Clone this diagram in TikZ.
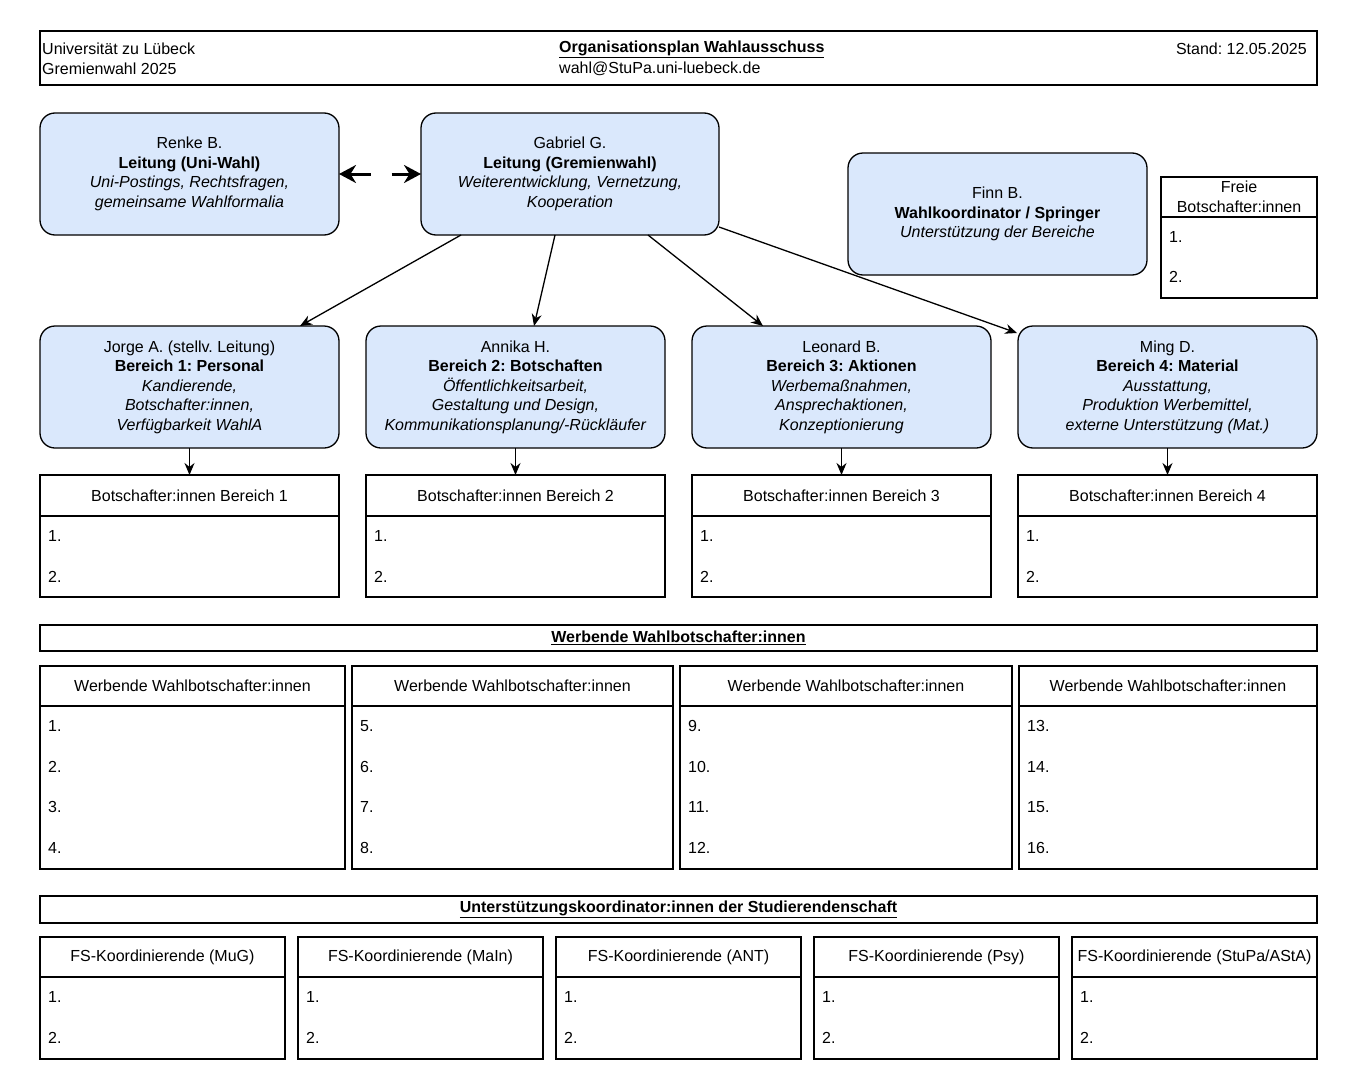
\documentclass[tikz,border=0pt]{standalone}
\usepackage{fontspec}
\setmainfont{Liberation Sans}
\usepackage{xcolor}
\usetikzlibrary{calc,positioning,arrows.meta}
\definecolor{amtblau}{HTML}{DAE8FC}
\frenchspacing
\tikzset{
	amt/.style={draw, fill=amtblau, rounded corners=15pt, line width=1.3pt, minimum width=299pt, minimum height=122pt, align=center, inner sep=0pt, outer sep=0pt},
	kopf/.style={draw, line width=1.3pt, minimum height=41pt, align=center, inner sep=0pt, outer sep=0pt},
	liste/.style={draw, line width=1.3pt, inner sep=0pt, outer sep=0pt},
	eintrag/.style={anchor=west, inner sep=0pt},
	pfeil/.style={-{Stealth[length=12pt,width=10pt]}, line width=1.3pt}
}
\begin{document}
\begin{tikzpicture}[x=1pt, y=-1pt, font=\fontsize{16}{19.5}\selectfont\frenchspacing]
	\fill[white] (0,0) rectangle (1358,1092);
	\useasboundingbox (0,0) rectangle (1358,1092);

	\node[liste, minimum width=1277pt, minimum height=54pt] (titel) at (678.5,58) {};
	\node[eintrag] (uni) at ($(titel.north west)+(2,18)$) {Universität zu Lübeck};
	\node[eintrag] (wahl) at ($(titel.north west)+(2,38)$) {Gremienwahl 2025};
	\node[eintrag] (plan) at ($(titel.north west)+(519,18)$) {\underline{\textbf{Organisationsplan Wahlausschuss}}};
	\node[eintrag] (mail) at ($(titel.north west)+(519,38)$) {wahl@StuPa.uni-luebeck.de};
	\node[inner sep=0pt, anchor=east] (stand) at ($(titel.north east)+(-10,18)$) {Stand: 12.05.2025};

	\node[amt] (renke) at (189.5,174) {Renke B.\\\textbf{Leitung (Uni-Wahl)}\\\textit{Uni-Postings, Rechtsfragen,}\\\textit{gemeinsame Wahlformalia}};
	\node[amt, minimum width=298pt, right=82pt of renke] (gabriel) {Gabriel G.\\\textbf{Leitung (Gremienwahl)}\\\textit{Weiterentwicklung, Vernetzung,}\\\textit{Kooperation}};
	\node[amt] (finn) at (997.5,214) {Finn B.\\\textbf{Wahlkoordinator / Springer}\\\textit{Unterstützung der Bereiche}};

	\node[kopf, minimum width=156pt, minimum height=40pt] (freik) at (1239,197) {Freie\\Botschafter:innen};
	\node[liste, minimum width=156pt, minimum height=81pt, below=0pt of freik] (freil) {};
	\node[eintrag] (freil-1) at ($(freil.north west)+(8,20)$) {1.};
	\node[eintrag] (freil-2) at ($(freil.north west)+(8,60)$) {2.};

	\draw[{Stealth[length=17pt,width=18pt]}-{Stealth[length=17pt,width=18pt]}, line width=3pt, dash pattern=on 21pt off 21pt] (renke) -- (gabriel);

	\node[amt] (jorge) at (189.5,387) {Jorge A. (stellv. Leitung)\\\textbf{Bereich 1: Personal}\\\textit{Kandierende,}\\\textit{Botschafter:innen,}\\\textit{Verfügbarkeit WahlA}};
	\node[amt, right=27pt of jorge] (annika) {Annika H.\\\textbf{Bereich 2: Botschaften}\\\textit{Öffentlichkeitsarbeit,}\\\textit{Gestaltung und Design,}\\\textit{Kommunikationsplanung/-Rückläufer}};
	\node[amt, right=27pt of annika] (leonard) {Leonard B.\\\textbf{Bereich 3: Aktionen}\\\textit{Werbemaßnahmen,}\\\textit{Ansprechaktionen,}\\\textit{Konzeptionierung}};
	\node[amt, right=27pt of leonard] (ming) {Ming D.\\\textbf{Bereich 4: Material}\\\textit{Ausstattung,}\\\textit{Produktion Werbemittel,}\\\textit{externe Unterstützung (Mat.)}};

	\draw[pfeil] ($(gabriel.south west)+(40,0)$) -- ($(jorge.north east)+(-39,0)$);
	\draw[pfeil] ($(gabriel.south west)+(134,0)$) -- ($(annika.north west)+(168,0)$);
	\draw[pfeil] ($(gabriel.south east)+(-71,0)$) -- ($(leonard.north west)+(71,0)$);
	\draw[pfeil] ($(gabriel.south east)+(0,-8)$) -- ($(ming.north west)+(-1,7)$);

	\foreach \n/\amt in {1/jorge, 2/annika, 3/leonard, 4/ming}{
		\node[kopf, minimum width=299pt, below=27pt of \amt] (botk\n) {Botschafter:innen Bereich \n};
		\node[liste, minimum width=299pt, minimum height=81pt, below=0pt of botk\n] (botl\n) {};
		\node[eintrag] (botl\n-1) at ($(botl\n.north west)+(8,20)$) {1.};
		\node[eintrag] (botl\n-2) at ($(botl\n.north west)+(8,61)$) {2.};
		\draw[pfeil] (\amt) -- (botk\n);
	}

	\node[liste, minimum width=1277pt, minimum height=26pt] (werb) at (678.5,638) {\underline{\textbf{Werbende Wahlbotschafter:innen}}};
	\foreach \n/\x/\w in {1/192.5/305, 2/512.5/321, 3/846/332, 4/1168/298}{
		\node[kopf, minimum width=\w*1pt, minimum height=40pt] (werbk\n) at (\x,686) {Werbende Wahlbotschafter:innen};
		\node[liste, minimum width=\w*1pt, minimum height=163pt, below=0pt of werbk\n] (werbl\n) {};
		\foreach \k in {1,...,4}{
			\pgfmathtruncatemacro{\nr}{4*(\n-1)+\k}
			\node[eintrag] (werbl\n-\k) at ($(werbl\n.north west)+(8,{20+40.7*(\k-1)})$) {\nr.};
		}
	}

	\node[liste, minimum width=1277pt, minimum height=27pt] (unterst) at (678.5,909.5) {\underline{\textbf{Unterstützungskoordinator:innen der Studierendenschaft}}};
	\foreach \n/\fs in {1/MuG, 2/MaIn, 3/ANT, 4/Psy, 5/{StuPa/AStA}}{
		\node[kopf, minimum width=245pt, minimum height=40pt] (fsk\n) at ({162.5+258*(\n-1)},957) {FS-Koordinierende (\fs)};
		\node[liste, minimum width=245pt, minimum height=82pt, below=0pt of fsk\n] (fsl\n) {};
		\node[eintrag] (fsl\n-1) at ($(fsl\n.north west)+(8,20)$) {1.};
		\node[eintrag] (fsl\n-2) at ($(fsl\n.north west)+(8,61)$) {2.};
	}
\end{tikzpicture}
\end{document}
